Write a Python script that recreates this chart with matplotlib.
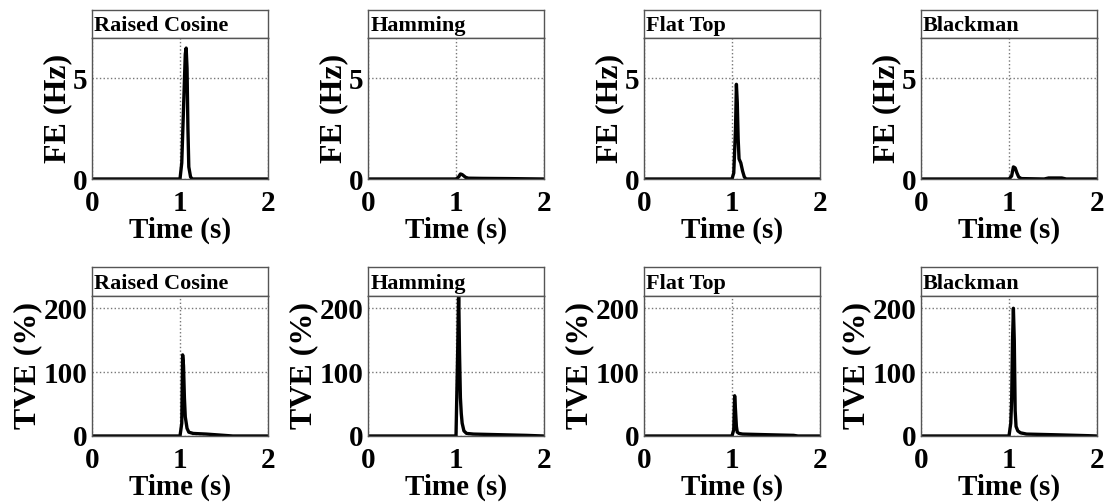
import matplotlib
matplotlib.use('Agg')
import matplotlib.pyplot as plt

plt.rcParams['font.family'] = ['Liberation Serif', 'DejaVu Serif']
plt.rcParams['font.weight'] = 'bold'

windows = ['Raised Cosine', 'Hamming', 'Flat Top', 'Blackman']

# FE (Hz) traces, time in s
fe_t = {
    'Raised Cosine': [0, 0.5, 1.0, 1.02, 1.04, 1.06, 1.07, 1.08, 1.09, 1.10, 1.12, 1.14, 1.5, 2.0],
    'Hamming': [0, 1.0, 1.03, 1.05, 1.07, 1.09, 1.11, 1.14, 1.3, 1.6, 2.0],
    'Flat Top': [0, 1.0, 1.02, 1.04, 1.05, 1.06, 1.07, 1.08, 1.10, 1.12, 1.14, 1.16, 2.0],
    'Blackman': [0, 1.0, 1.03, 1.05, 1.07, 1.09, 1.11, 1.14, 1.4, 1.45, 1.6, 1.65, 2.0],
}
fe_v = {
    'Raised Cosine': [0, 0, 0, 0.8, 3.5, 6.2, 6.5, 5.5, 2.5, 0.6, 0.1, 0, 0, 0],
    'Hamming': [0, 0, 0.1, 0.25, 0.22, 0.15, 0.08, 0.04, 0.03, 0.02, 0],
    'Flat Top': [0, 0, 0.3, 2.5, 4.7, 3.8, 2.0, 1.0, 0.8, 0.4, 0.1, 0, 0],
    'Blackman': [0, 0, 0.15, 0.6, 0.55, 0.3, 0.1, 0.02, 0, 0.05, 0.05, 0, 0],
}

# TVE (%) traces
tve_t = {
    'Raised Cosine': [0, 1.0, 1.02, 1.03, 1.04, 1.05, 1.06, 1.08, 1.10, 1.15, 1.3, 1.5, 1.6, 2.0],
    'Hamming': [0, 1.0, 1.02, 1.03, 1.04, 1.05, 1.06, 1.07, 1.09, 1.12, 1.2, 1.5, 1.8, 2.0],
    'Flat Top': [0, 1.0, 1.02, 1.03, 1.04, 1.05, 1.06, 1.08, 1.12, 1.4, 1.7, 1.75, 2.0],
    'Blackman': [0, 1.0, 1.02, 1.03, 1.04, 1.05, 1.06, 1.07, 1.08, 1.10, 1.13, 1.2, 1.5, 1.9, 2.0],
}
tve_v = {
    'Raised Cosine': [0, 0, 20, 127, 110, 60, 30, 12, 6, 4, 3, 1, 0, 0],
    'Hamming': [0, 0, 140, 230, 130, 60, 35, 20, 8, 4, 3, 2, 1, 0],
    'Flat Top': [0, 0, 10, 63, 40, 15, 6, 4, 3, 2, 1, 0, 0],
    'Blackman': [0, 0, 20, 55, 150, 200, 150, 40, 15, 8, 5, 3, 2, 0.5, 0],
}

W, H = 1107, 504
lefts = [92, 368, 644, 921]
width = 176
rows = [
    dict(top=10, split=38, bottom=179, t=fe_t, v=fe_v, ylim=7, yticks=[0, 5], ylabel='FE (Hz)'),
    dict(top=267, split=295.5, bottom=436, t=tve_t, v=tve_v, ylim=220, yticks=[0, 100, 200], ylabel='TVE (%)'),
]


def px_rect(l, t, r, b):
    return [l / W, 1 - b / H, (r - l) / W, (b - t) / H]


fig = plt.figure(figsize=(W / 100, H / 100), dpi=100)

for row in rows:
    for name, left in zip(windows, lefts):
        # title strip
        tax = fig.add_axes(px_rect(left, row['top'], left + width, row['split']))
        tax.set_xticks([])
        tax.set_yticks([])
        for s in tax.spines.values():
            s.set_color('#555555')
            s.set_linewidth(1)
        tax.text(0.012, 0.42, name, transform=tax.transAxes, ha='left', va='center',
                 fontsize=16, fontweight='bold')

        ax = fig.add_axes(px_rect(left, row['split'], left + width, row['bottom']))
        ax.plot(row['t'][name], row['v'][name], color='black', linewidth=2.4, clip_on=True)
        ax.set_xlim(0, 2)
        ax.set_ylim(0, row['ylim'])
        ax.set_xticks([0, 1, 2])
        ax.set_yticks(row['yticks'])
        ax.grid(True, linestyle=':', color='#777777', linewidth=1)
        ax.tick_params(length=0, labelsize=21)
        ax.tick_params(axis='x', pad=8)
        ax.tick_params(axis='y', pad=3)
        for s in ax.spines.values():
            s.set_color('#555555')
            s.set_linewidth(1)
        ax.set_xlabel('Time (s)', fontsize=21, fontweight='bold', labelpad=0)
        ax.set_ylabel(row['ylabel'], fontsize=23, fontweight='bold', labelpad=1)

fig.savefig('out.png', dpi=100)
